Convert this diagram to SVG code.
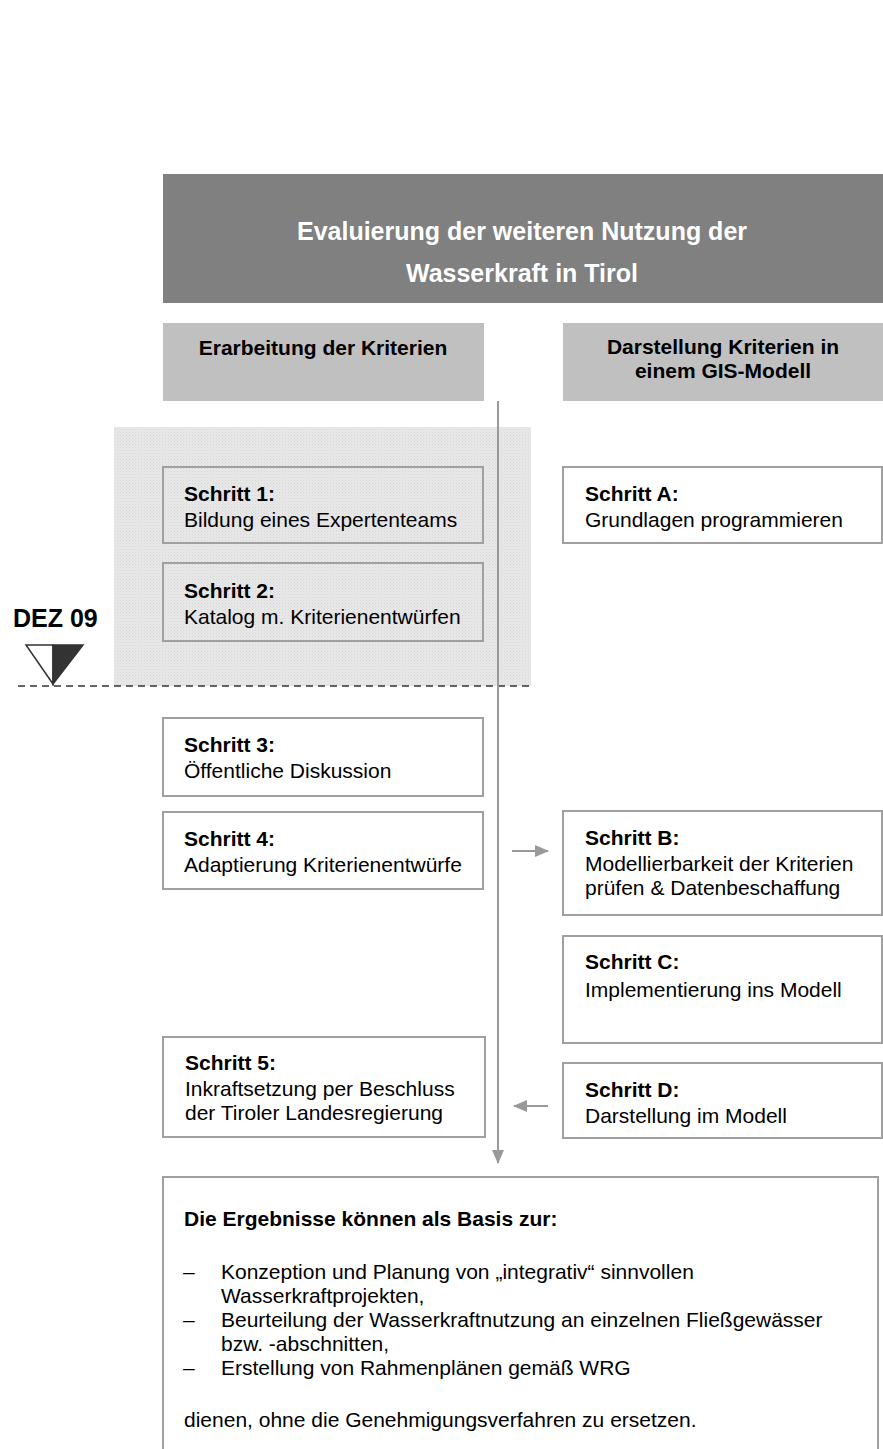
<svg xmlns="http://www.w3.org/2000/svg" width="883" height="1449" viewBox="0 0 883 1449">
<defs>
<style>
.t{font-family:"Liberation Sans",Arial,sans-serif;font-size:21px;fill:#000}
.b{font-weight:bold}
.box{fill:#fff;stroke:#a0a0a0;stroke-width:2}
.boxc{fill:none;stroke:#a0a0a0;stroke-width:2}
.hdr{fill:#c0c0c0}
.conn{stroke:#999;stroke-width:2;fill:none}
</style>
<pattern id="stip" width="3" height="3" patternUnits="userSpaceOnUse">
<rect width="3" height="3" fill="#e8e8e8"/>
<rect width="1" height="1" fill="#d6d6d6"/>
<rect x="1.5" y="1.5" width="1" height="1" fill="#dcdcdc"/>
</pattern>
<marker id="ah" markerWidth="14" markerHeight="14" refX="13" refY="7" orient="auto" markerUnits="userSpaceOnUse" viewBox="0 0 14 14">
<path d="M0,1 L14,7 L0,13 Z" fill="#999"/>
</marker>
</defs>
<rect width="883" height="1449" fill="#fff"/>

<g id="title">
<rect x="163" y="174" width="720" height="129" fill="#808080"/>
<text class="t b" x="522" y="240" text-anchor="middle" style="font-size:25px;fill:#fff">Evaluierung der weiteren Nutzung der</text>
<text class="t b" x="522" y="282" text-anchor="middle" style="font-size:25px;fill:#fff">Wasserkraft in Tirol</text>
</g>

<g id="header-left">
<rect class="hdr" x="163" y="323" width="321" height="78"/>
<text class="t b" x="323" y="355" text-anchor="middle">Erarbeitung der Kriterien</text>
</g>
<g id="header-right">
<rect class="hdr" x="563" y="323" width="320" height="78"/>
<text class="t b" x="723" y="354" text-anchor="middle">Darstellung Kriterien in</text>
<text class="t b" x="723" y="378" text-anchor="middle">einem GIS-Modell</text>
</g>

<g id="phase-area">
<rect x="114" y="427" width="417" height="259" fill="url(#stip)"/>
</g>

<g id="milestone">
<text class="t b" x="13" y="627" style="font-size:25px">DEZ 09</text>
<path d="M26,645 L53,645 L53,684 Z" fill="#fff" stroke="#333" stroke-width="1.5"/>
<path d="M53,645 L83,645 L53,684 Z" fill="#333" stroke="#333" stroke-width="1.5"/>
<line x1="18" y1="686" x2="531" y2="686" stroke="#333" stroke-width="1.7" stroke-dasharray="7,5"/>
</g>

<g id="schritt1">
<rect class="boxc" x="163" y="467" width="320" height="76"/>
<text class="t b" x="184" y="501">Schritt 1:</text>
<text class="t" x="184" y="527">Bildung eines Expertenteams</text>
</g>
<g id="schritt2">
<rect class="boxc" x="163" y="563" width="320" height="78"/>
<text class="t b" x="184" y="598">Schritt 2:</text>
<text class="t" x="184" y="624">Katalog m. Kriterienentwürfen</text>
</g>
<g id="schrittA">
<rect class="box" x="563" y="467" width="319" height="76"/>
<text class="t b" x="585" y="501">Schritt A:</text>
<text class="t" x="585" y="527">Grundlagen programmieren</text>
</g>
<g id="schritt3">
<rect class="box" x="163" y="718" width="320" height="78"/>
<text class="t b" x="184" y="752">Schritt 3:</text>
<text class="t" x="184" y="778">Öffentliche Diskussion</text>
</g>
<g id="schritt4">
<rect class="box" x="163" y="812" width="320" height="77"/>
<text class="t b" x="184" y="846">Schritt 4:</text>
<text class="t" x="184" y="872">Adaptierung Kriterienentwürfe</text>
</g>
<g id="schrittB">
<rect class="box" x="563" y="811" width="319" height="104"/>
<text class="t b" x="585" y="845">Schritt B:</text>
<text class="t" x="585" y="871">Modellierbarkeit der Kriterien</text>
<text class="t" x="585" y="895">prüfen &amp; Datenbeschaffung</text>
</g>
<g id="schrittC">
<rect class="box" x="563" y="936" width="319" height="107"/>
<text class="t b" x="585" y="969">Schritt C:</text>
<text class="t" x="585" y="997">Implementierung ins Modell</text>
</g>
<g id="schritt5">
<rect class="box" x="163" y="1037" width="322" height="100"/>
<text class="t b" x="185" y="1070">Schritt 5:</text>
<text class="t" x="185" y="1096">Inkraftsetzung per Beschluss</text>
<text class="t" x="185" y="1120">der Tiroler Landesregierung</text>
</g>
<g id="schrittD">
<rect class="box" x="563" y="1063" width="319" height="75"/>
<text class="t b" x="585" y="1097">Schritt D:</text>
<text class="t" x="585" y="1123">Darstellung im Modell</text>
</g>

<g id="result">
<rect class="box" x="163" y="1177" width="715" height="300"/>
<text class="t b" x="184" y="1226">Die Ergebnisse können als Basis zur:</text>
<text class="t" x="183" y="1279">–</text>
<text class="t" x="221" y="1279">Konzeption und Planung von „integrativ“ sinnvollen</text>
<text class="t" x="221" y="1303">Wasserkraftprojekten,</text>
<text class="t" x="183" y="1327">–</text>
<text class="t" x="221" y="1327">Beurteilung der Wasserkraftnutzung an einzelnen Fließgewässer</text>
<text class="t" x="221" y="1351">bzw. -abschnitten,</text>
<text class="t" x="183" y="1375">–</text>
<text class="t" x="221" y="1375">Erstellung von Rahmenplänen gemäß WRG</text>
<text class="t" x="184" y="1427">dienen, ohne die Genehmigungsverfahren zu ersetzen.</text>
</g>

<g id="connectors">
<line class="conn" x1="498" y1="401" x2="498" y2="1163" marker-end="url(#ah)"/>
<line class="conn" x1="512" y1="851" x2="548" y2="851" marker-end="url(#ah)"/>
<line class="conn" x1="548" y1="1106" x2="514" y2="1106" marker-end="url(#ah)"/>
</g>
</svg>
